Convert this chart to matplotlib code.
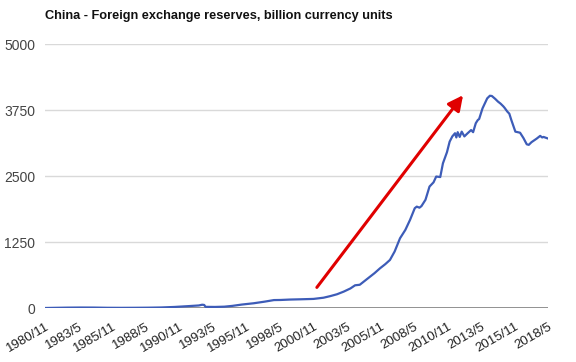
import matplotlib.pyplot as plt
import numpy as np

# Data (fractional year, billion currency units)
years = [1980.83, 1981.5, 1982.5, 1983.5, 1984.5, 1985.5, 1986.5, 1987.5, 1988.5,
         1989.5, 1990.5, 1991.5, 1992.3, 1992.55, 1992.7, 1992.8, 1993.5, 1994.2,
         1994.8, 1995.5, 1996.4, 1997.2, 1997.9, 1998.4, 1999.1, 1999.9, 2000.85,
         2001.6, 2002.1, 2002.6, 2003.1, 2003.6, 2003.95, 2004.3, 2004.9, 2005.4,
         2005.8, 2006.2, 2006.55, 2006.9, 2007.3, 2007.7, 2008.05, 2008.4, 2008.55,
         2008.75, 2008.9, 2009.2, 2009.5, 2009.8, 2010.0, 2010.3, 2010.5, 2010.8,
         2011.0, 2011.2, 2011.4, 2011.5, 2011.6, 2011.75, 2011.9, 2012.1, 2012.3,
         2012.6, 2012.75, 2012.95, 2013.1, 2013.2, 2013.45, 2013.8, 2014.0, 2014.15,
         2014.4, 2014.6, 2014.8, 2015.0, 2015.1, 2015.3, 2015.45, 2015.6, 2015.9,
         2016.25, 2016.5, 2016.75, 2016.9, 2017.1, 2017.5, 2017.75, 2017.9, 2018.0,
         2018.33]
reserves = [0, 3, 7, 9, 8, 4, 3, 4, 6,
            10, 20, 35, 48, 62, 58, 22, 20, 25,
            40, 65, 90, 120, 150, 152, 160, 165, 172,
            195, 225, 260, 310, 370, 430, 440, 560, 660,
            750, 830, 910, 1070, 1320, 1480, 1670, 1890, 1920,
            1900, 1930, 2050, 2300, 2380, 2490, 2480, 2740, 2950,
            3150, 3250, 3310, 3230, 3330, 3240, 3340, 3250, 3300,
            3370, 3330, 3500, 3560, 3580, 3780, 3970, 4020, 4015,
            3960, 3910, 3870, 3820, 3790, 3720, 3680, 3560, 3340,
            3320, 3220, 3100, 3090, 3140, 3210, 3260, 3230, 3240,
            3210]

tick_labels = ["1980/11", "1983/5", "1985/11", "1988/5", "1990/11", "1993/5",
               "1995/11", "1998/5", "2000/11", "2003/5", "2005/11", "2008/5",
               "2010/11", "2013/5", "2015/11", "2018/5"]
tick_years = [1980 + 10/12 + 2.5 * i for i in range(len(tick_labels))]
y_ticks = [0, 1250, 2500, 3750, 5000]

# arrow annotation (start, tip) in data units
arrow_start = (2001.1, 390)
arrow_tip = (2012.0, 4030)

plt.rcParams['font.family'] = ['Liberation Sans', 'DejaVu Sans']
fig = plt.figure(figsize=(5.76, 3.62), dpi=100)
ax = fig.add_axes([45/576, 1 - 308/362, 503/576, 264/362])

ax.plot(years, reserves, color='#3d5cb8', lw=1.6, zorder=3)

ax.set_xlim(tick_years[0], tick_years[-1])
ax.set_ylim(0, 5000)
ax.set_yticks(y_ticks)
ax.set_yticklabels([str(v) for v in y_ticks], color='#444444', fontsize=10)
ax.set_xticks(tick_years)
ax.set_xticklabels(tick_labels, rotation=30, ha='right', rotation_mode='anchor',
                   fontsize=9.5, color='#222222')
ax.tick_params(length=0, axis='y', pad=7)
ax.tick_params(length=0, axis='x', pad=9)
ax.grid(axis='y', color='#d9d9d9', lw=1)
ax.axhline(0, color='#888888', lw=2, zorder=2)
for s in ax.spines.values():
    s.set_visible(False)

ax.annotate('', xy=arrow_tip, xytext=arrow_start,
            arrowprops=dict(arrowstyle='-|>,head_length=0.9,head_width=0.45',
                            color='#e00000', lw=2.2, shrinkA=0, shrinkB=0),
            zorder=4)

fig.text(45/576, 1 - 16/362, 'China - Foreign exchange reserves, billion currency units',
         fontsize=9.2, fontweight='bold', va='center', ha='left', color='#111111')

plt.savefig('out.png')
